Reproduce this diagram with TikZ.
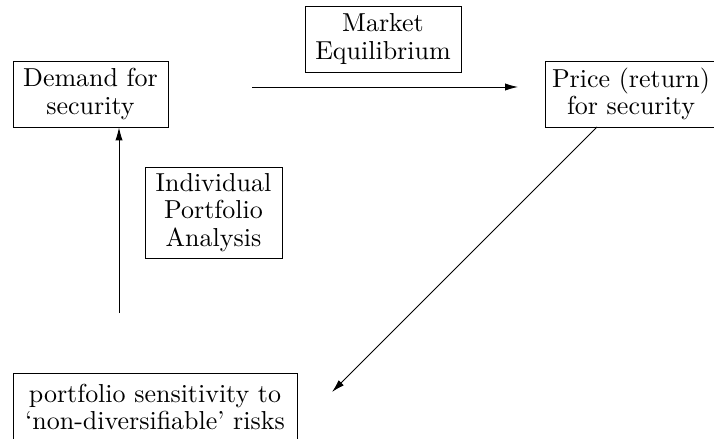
\documentclass[tikz,border=0pt]{standalone}
\usetikzlibrary{arrows.meta}
\begin{document}
\begin{tikzpicture}[x=0.385pt,y=-0.385pt,
  box/.style={draw, line width=0.35pt, align=center, inner sep=0pt,
    font=\fontsize{10}{10.5}\selectfont},
  conn/.style={line width=0.35pt, -{Latex[length=5pt,width=2.8pt]}}]
\clip (0,0) rectangle (714,439);
\useasboundingbox (0,0) rectangle (714,439);
\node[box, minimum width=155*0.385pt, minimum height=66*0.385pt] (demand) at (90.5,94) {Demand for\\security};
\node[box, minimum width=156*0.385pt, minimum height=66*0.385pt] (market) at (383,39) {Market\\Equilibrium};
\node[box, minimum width=172*0.385pt, minimum height=66*0.385pt] (price) at (631,94) {Price (return)\\for security};
\node[box, minimum width=137*0.385pt, minimum height=91*0.385pt] (ipa) at (213.5,212.5) {Individual\\Portfolio\\Analysis};
\node[box, minimum width=284*0.385pt, minimum height=68*0.385pt] (sens) at (155,407) {portfolio sensitivity to\\`non-diversifiable' risks};
\coordinate (vstart) at (119,313);
\coordinate (hstart) at (252,87);
\coordinate (hend) at (518,87);
\coordinate (dstart) at (597,127);
\coordinate (dend) at (332,392);
\draw[conn] (vstart) -- (vstart |- demand.south);
\draw[conn] (hstart) -- (hend);
\draw[conn] (dstart) -- (dend);
\end{tikzpicture}
\end{document}
